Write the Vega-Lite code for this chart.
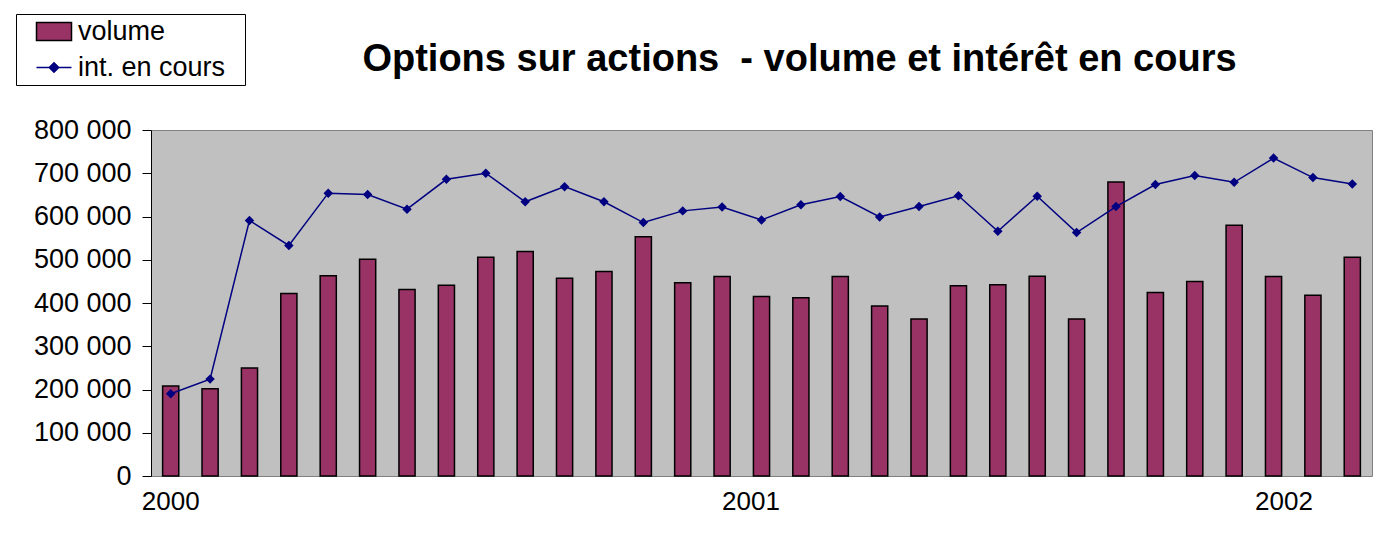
{
  "$schema": "https://vega.github.io/schema/vega-lite/v6.json",
  "autosize": "none",
  "width": 1221,
  "height": 346,
  "padding": {"left": 151, "top": 130, "right": 28, "bottom": 78},
  "background": "white",
  "config": {
    "font": "Liberation Sans",
    "view": {"fill": "#C0C0C0", "stroke": "#808080", "strokeWidth": 1},
    "locale": {"number": {"decimal": ",", "thousands": " ", "grouping": [3], "currency": ["", " €"]}}
  },
  "title": {
    "text": "Options sur actions\u00a0 - volume et intérêt en cours",
    "font": "Liberation Sans",
    "fontSize": 38,
    "fontWeight": "bold",
    "color": "black",
    "anchor": "middle",
    "frame": "group",
    "baseline": "alphabetic",
    "dx": 38,
    "offset": -95
  },
  "data": {
    "values": [
      {"m": "2000-01", "volume": 208000, "oi": 190000},
      {"m": "2000-02", "volume": 202000, "oi": 224000},
      {"m": "2000-03", "volume": 250000, "oi": 591000},
      {"m": "2000-04", "volume": 422000, "oi": 533000},
      {"m": "2000-05", "volume": 463000, "oi": 654000},
      {"m": "2000-06", "volume": 501000, "oi": 651000},
      {"m": "2000-07", "volume": 431000, "oi": 617000},
      {"m": "2000-08", "volume": 441000, "oi": 686000},
      {"m": "2000-09", "volume": 506000, "oi": 700000},
      {"m": "2000-10", "volume": 519000, "oi": 634000},
      {"m": "2000-11", "volume": 457000, "oi": 669000},
      {"m": "2000-12", "volume": 473000, "oi": 634000},
      {"m": "2001-01", "volume": 553000, "oi": 586000},
      {"m": "2001-02", "volume": 447000, "oi": 613000},
      {"m": "2001-03", "volume": 461000, "oi": 622000},
      {"m": "2001-04", "volume": 415000, "oi": 592000},
      {"m": "2001-05", "volume": 412000, "oi": 627000},
      {"m": "2001-06", "volume": 461000, "oi": 646000},
      {"m": "2001-07", "volume": 393000, "oi": 599000},
      {"m": "2001-08", "volume": 363000, "oi": 623000},
      {"m": "2001-09", "volume": 440000, "oi": 648000},
      {"m": "2001-10", "volume": 442000, "oi": 566000},
      {"m": "2001-11", "volume": 462000, "oi": 647000},
      {"m": "2001-12", "volume": 363000, "oi": 563000},
      {"m": "2002-01", "volume": 680000, "oi": 623000},
      {"m": "2002-02", "volume": 424000, "oi": 674000},
      {"m": "2002-03", "volume": 450000, "oi": 695000},
      {"m": "2002-04", "volume": 580000, "oi": 679000},
      {"m": "2002-05", "volume": 461000, "oi": 735000},
      {"m": "2002-06", "volume": 418000, "oi": 690000},
      {"m": "2002-07", "volume": 506000, "oi": 675000}
    ]
  },
  "encoding": {
    "x": {
      "field": "m",
      "type": "ordinal",
      "scale": {"paddingInner": 0, "paddingOuter": 0},
      "axis": {
        "title": null,
        "values": ["2000-01", "2001-03", "2002-06"],
        "labelExpr": "slice(datum.value, 0, 4)",
        "labelAngle": 0,
        "labelAlign": {
          "condition": [
            {"test": "datum.value === '2001-03'", "value": "left"},
            {"test": "datum.value === '2002-06'", "value": "right"}
          ],
          "value": "center"
        },
        "ticks": false,
        "domain": false,
        "labelPadding": 12,
        "labelFont": "Liberation Sans",
        "labelFontSize": 26,
        "labelColor": "black"
      }
    }
  },
  "layer": [
    {
      "mark": {"type": "bar", "width": {"band": 0.41}, "strokeWidth": 1.5},
      "encoding": {
        "y": {
          "field": "volume",
          "type": "quantitative",
          "scale": {"domain": [0, 800000], "nice": false},
          "axis": {
            "title": null,
            "values": [0, 100000, 200000, 300000, 400000, 500000, 600000, 700000, 800000],
            "format": ",d",
            "grid": false,
            "domainColor": "black",
            "domainWidth": 1,
            "tickColor": "black",
            "tickSize": 9,
            "labelPadding": 11,
            "labelFont": "Liberation Sans",
            "labelFontSize": 27,
            "labelColor": "black"
          }
        },
        "fill": {
          "datum": "volume",
          "type": "nominal",
          "scale": {"domain": ["volume", "int. en cours"], "range": ["#993366", "#000080"]},
          "legend": {
            "title": null,
            "orient": "none",
            "legendX": -135,
            "legendY": -116,
            "direction": "vertical",
            "padding": 4,
            "symbolOffset": 20.5,
            "symbolSize": 90,
            "symbolStrokeWidth": 1.5,
            "rowPadding": 8,
            "labelOffset": 10.5,
            "labelFont": "Liberation Sans",
            "labelFontSize": 27,
            "labelColor": "black",
            "strokeColor": "black",
            "fillColor": "white"
          }
        },
        "stroke": {
          "datum": "volume",
          "type": "nominal",
          "scale": {"domain": ["volume", "int. en cours"], "range": ["black", "#000080"]}
        }
      }
    },
    {
      "mark": {"type": "line", "strokeWidth": 1.5},
      "encoding": {
        "y": {"field": "oi", "type": "quantitative"},
        "stroke": {"datum": "int. en cours", "type": "nominal"}
      }
    },
    {
      "mark": {"type": "point", "filled": true, "size": 90, "strokeWidth": 0, "opacity": 1},
      "encoding": {
        "y": {"field": "oi", "type": "quantitative"},
        "fill": {"datum": "int. en cours", "type": "nominal"},
        "shape": {
          "datum": "int. en cours",
          "type": "nominal",
          "scale": {
            "domain": ["volume", "int. en cours"],
            "range": ["M-3.69,-1.9H3.69V1.9H-3.69Z M38.6,0", "M-3.69,0H3.69 M0,-1L1,0L0,1L-1,0Z"]
          }
        }
      }
    }
  ]
}
